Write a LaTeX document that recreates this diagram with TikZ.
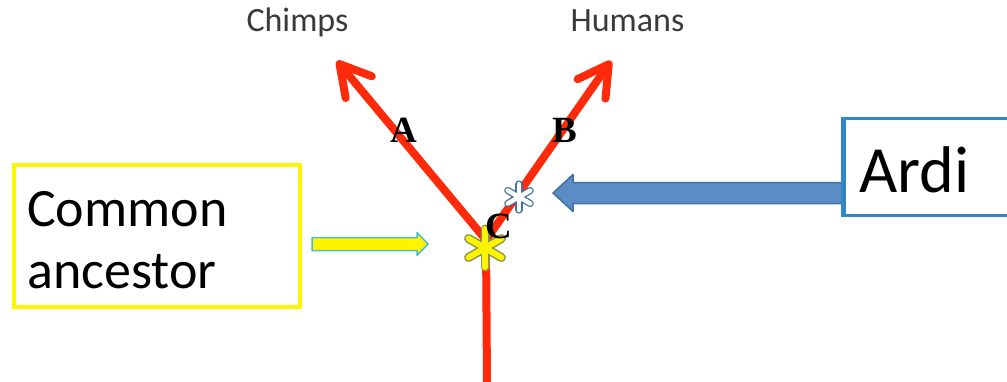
\documentclass[tikz,border=0pt]{standalone}
\usepackage{fontspec}
\setmainfont{Carlito}
\newfontfamily\labelfont{Liberation Serif}
\usetikzlibrary{arrows.meta,calc}

\definecolor{branchred}{HTML}{FF2A0A}
\definecolor{boxyellow}{HTML}{FFF500}
\definecolor{starolive}{HTML}{8F9548}
\definecolor{ardiborder}{HTML}{2F89C9}
\definecolor{bluefill}{HTML}{5B8CC6}
\definecolor{blueedge}{HTML}{41719C}
\definecolor{cyanedge}{HTML}{4BBCCB}
\definecolor{taxongray}{HTML}{3A3A3A}

% block arrow from #2 to #3: style #1, shaft half-height #4, head half-height #5, head length #6
\newcommand{\blockarrow}[6]{%
  \coordinate (#2-#3-base) at ($(#3)!#6!(#2)$);
  \draw[#1] ($(#2)!#4!90:(#3)$) -- ($(#2-#3-base)!#4!-90:(#2)$)
    -- ($(#2-#3-base)!#5!-90:(#2)$) -- (#3)
    -- ($(#2-#3-base)!#5!90:(#2)$) -- ($(#2-#3-base)!#4!90:(#2)$)
    -- ($(#2)!#4!-90:(#3)$) -- cycle;
}

\tikzset{
  branch/.style={draw=branchred, line width=8pt, line cap=round,
    -{Straight Barb[length=30pt 0 0, width=34pt 0 0, round]}},
  trunk/.style={draw=branchred, line width=8pt},
  taxon/.style={text=taxongray, font=\fontsize{34}{40}\selectfont, anchor=base, inner sep=0pt},
  letter/.style={font=\labelfont\bfseries\fontsize{37}{40}\selectfont, inner sep=0pt},
  ancbox/.style={draw=boxyellow, line width=4.5pt, minimum width=286pt, minimum height=142pt, inner sep=0pt},
  anctext/.style={font=\fontsize{54}{63}\selectfont, anchor=base west, inner sep=0pt},
  ardibox/.style={draw=ardiborder, line width=3pt, minimum width=190pt, minimum height=97pt, inner sep=0pt},
  arditext/.style={font=\fontsize{66}{72}\selectfont, anchor=base west, inner sep=0pt},
  bluearrow/.style={fill=bluefill, draw=blueedge, line width=1.5pt, line join=round},
  yellowarrow/.style={fill=boxyellow, draw=cyanedge, line width=1.5pt, line join=round},
  pics/starburst/.style n args={5}{code={
    % #1 fill, #2 edge, #3 half-length, #4 arm width, #5 edge width
    \foreach \a in {90,30,-30}
      \draw[#2, line width=#4+2*#5, line cap=round] (\a:#3) -- (\a+180:#3);
    \foreach \a in {90,30,-30}
      \draw[#1, line width=#4, line cap=round] (\a:#3) -- (\a+180:#3);
  }}
}

\begin{document}
\begin{tikzpicture}[x=1pt, y=-1pt]
  \useasboundingbox (0,0) rectangle (1007,381);

  % tree
  \coordinate (root) at (487,385);
  \coordinate (split) at (486,240);
  \coordinate (chimptip) at (337,61);
  \coordinate (humantip) at (611,61);
  \draw[trunk] (root) -- (split);
  \draw[branch] (split) -- (chimptip);
  \draw[branch] (split) -- (humantip);

  % tip names
  \node[taxon] (chimps) at (297.5,31) {Chimps};
  \node[taxon] (humans) at (627.5,31) {Humans};

  % markers on the tree
  \pic at (485,248) {starburst={boxyellow}{starolive}{19}{6}{1.5}};
  \pic at (519,197) {starburst={white}{blueedge}{13}{4.5}{1.3}};

  % branch letters
  \node[letter] (lblA) at (404,130) {A};
  \node[letter] (lblB) at (565,130) {B};
  \node[letter] (lblC) at (499,226) {C};

  % boxes and their texts
  \node[ancbox] (ancestor) at (157,236) {};
  \node[anctext] (ancline1) at (27,226) {Common};
  \node[anctext] (ancline2) at (27,288) {ancestor};
  \node[ardibox] (ardi) at (939,166.5) {};
  \node[arditext] (arditag) at (859,192) {Ardi};

  % pointers
  \coordinate (ancout) at (312,244);
  \coordinate (ancin) at (428,244);
  \blockarrow{yellowarrow}{ancout}{ancin}{6.5pt}{11.5pt}{11pt}
  \coordinate (ardiout) at (844,193);
  \coordinate (ardiin) at (553,193);
  \blockarrow{bluearrow}{ardiout}{ardiin}{10.5pt}{18.5pt}{20pt}
  \draw[draw=ardiborder, line width=3pt] (ardi.north west) -- (ardi.south west);
\end{tikzpicture}
\end{document}
